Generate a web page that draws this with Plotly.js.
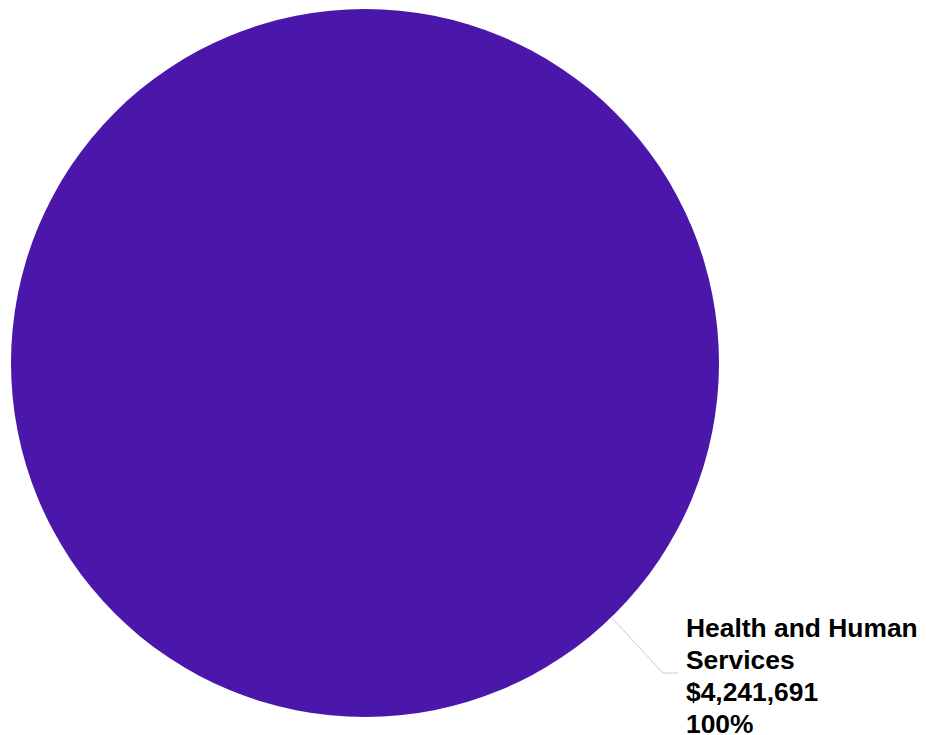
<!DOCTYPE html>
<html>
<head>
<meta charset="utf-8">
<script src="https://cdn.plot.ly/plotly-3.0.1.min.js"></script>
<style>html,body{margin:0;padding:0;background:#fff;}#chart{width:926px;height:735px;}</style>
</head>
<body>
<div id="chart"></div>
<script>
const categories = ["Health and Human Services"];
const values = [4241691];
const colors = ["#4b17ab"];

const total = values.reduce((a, b) => a + b, 0);
const fmt = v => "$" + v.toLocaleString("en-US");
function wrap(s, max) {
  const out = []; let cur = "";
  s.split(" ").forEach(w => {
    if (cur && (cur + " " + w).length > max) { out.push(cur); cur = w; }
    else cur = cur ? cur + " " + w : w;
  });
  if (cur) out.push(cur);
  return out;
}
const labelLines = wrap(categories[0], 16).concat([fmt(values[0]), Math.round(values[0] / total * 100) + "%"]);

const W = 926, H = 735;
const trace = {
  type: "pie",
  labels: categories,
  values: values,
  marker: {colors: colors, line: {width: 0}},
  textinfo: "none",
  sort: false,
  hoverinfo: "label+value+percent",
  domain: {x: [11 / W, 719 / W], y: [(H - 717) / H, (H - 9) / H]}
};

const firstY = 628, lineGap = 32;
const annotations = labelLines.map((t, i) => ({
  xref: "paper", yref: "paper",
  x: 684 / W, y: 1 - (firstY + i * lineGap) / H,
  xanchor: "left", yanchor: "middle", align: "left",
  showarrow: false,
  text: "<b>" + t + "</b>",
  font: {family: "Liberation Sans, Arial, sans-serif", size: 26.4, color: "#000000"}
}));

const layout = {
  width: W, height: H,
  margin: {l: 0, r: 0, t: 0, b: 0},
  paper_bgcolor: "#ffffff",
  showlegend: false,
  shapes: [{
    type: "path", xref: "paper", yref: "paper",
    path: "M " + (612 / W) + "," + (1 - 618 / H) + " L " + (663 / W) + "," + (1 - 673 / H) + " L " + (678 / W) + "," + (1 - 673 / H),
    line: {color: "#cccccc", width: 1}
  }],
  annotations: annotations
};

Plotly.newPlot("chart", [trace], layout, {displayModeBar: false, staticPlot: true});
</script>
</body>
</html>
